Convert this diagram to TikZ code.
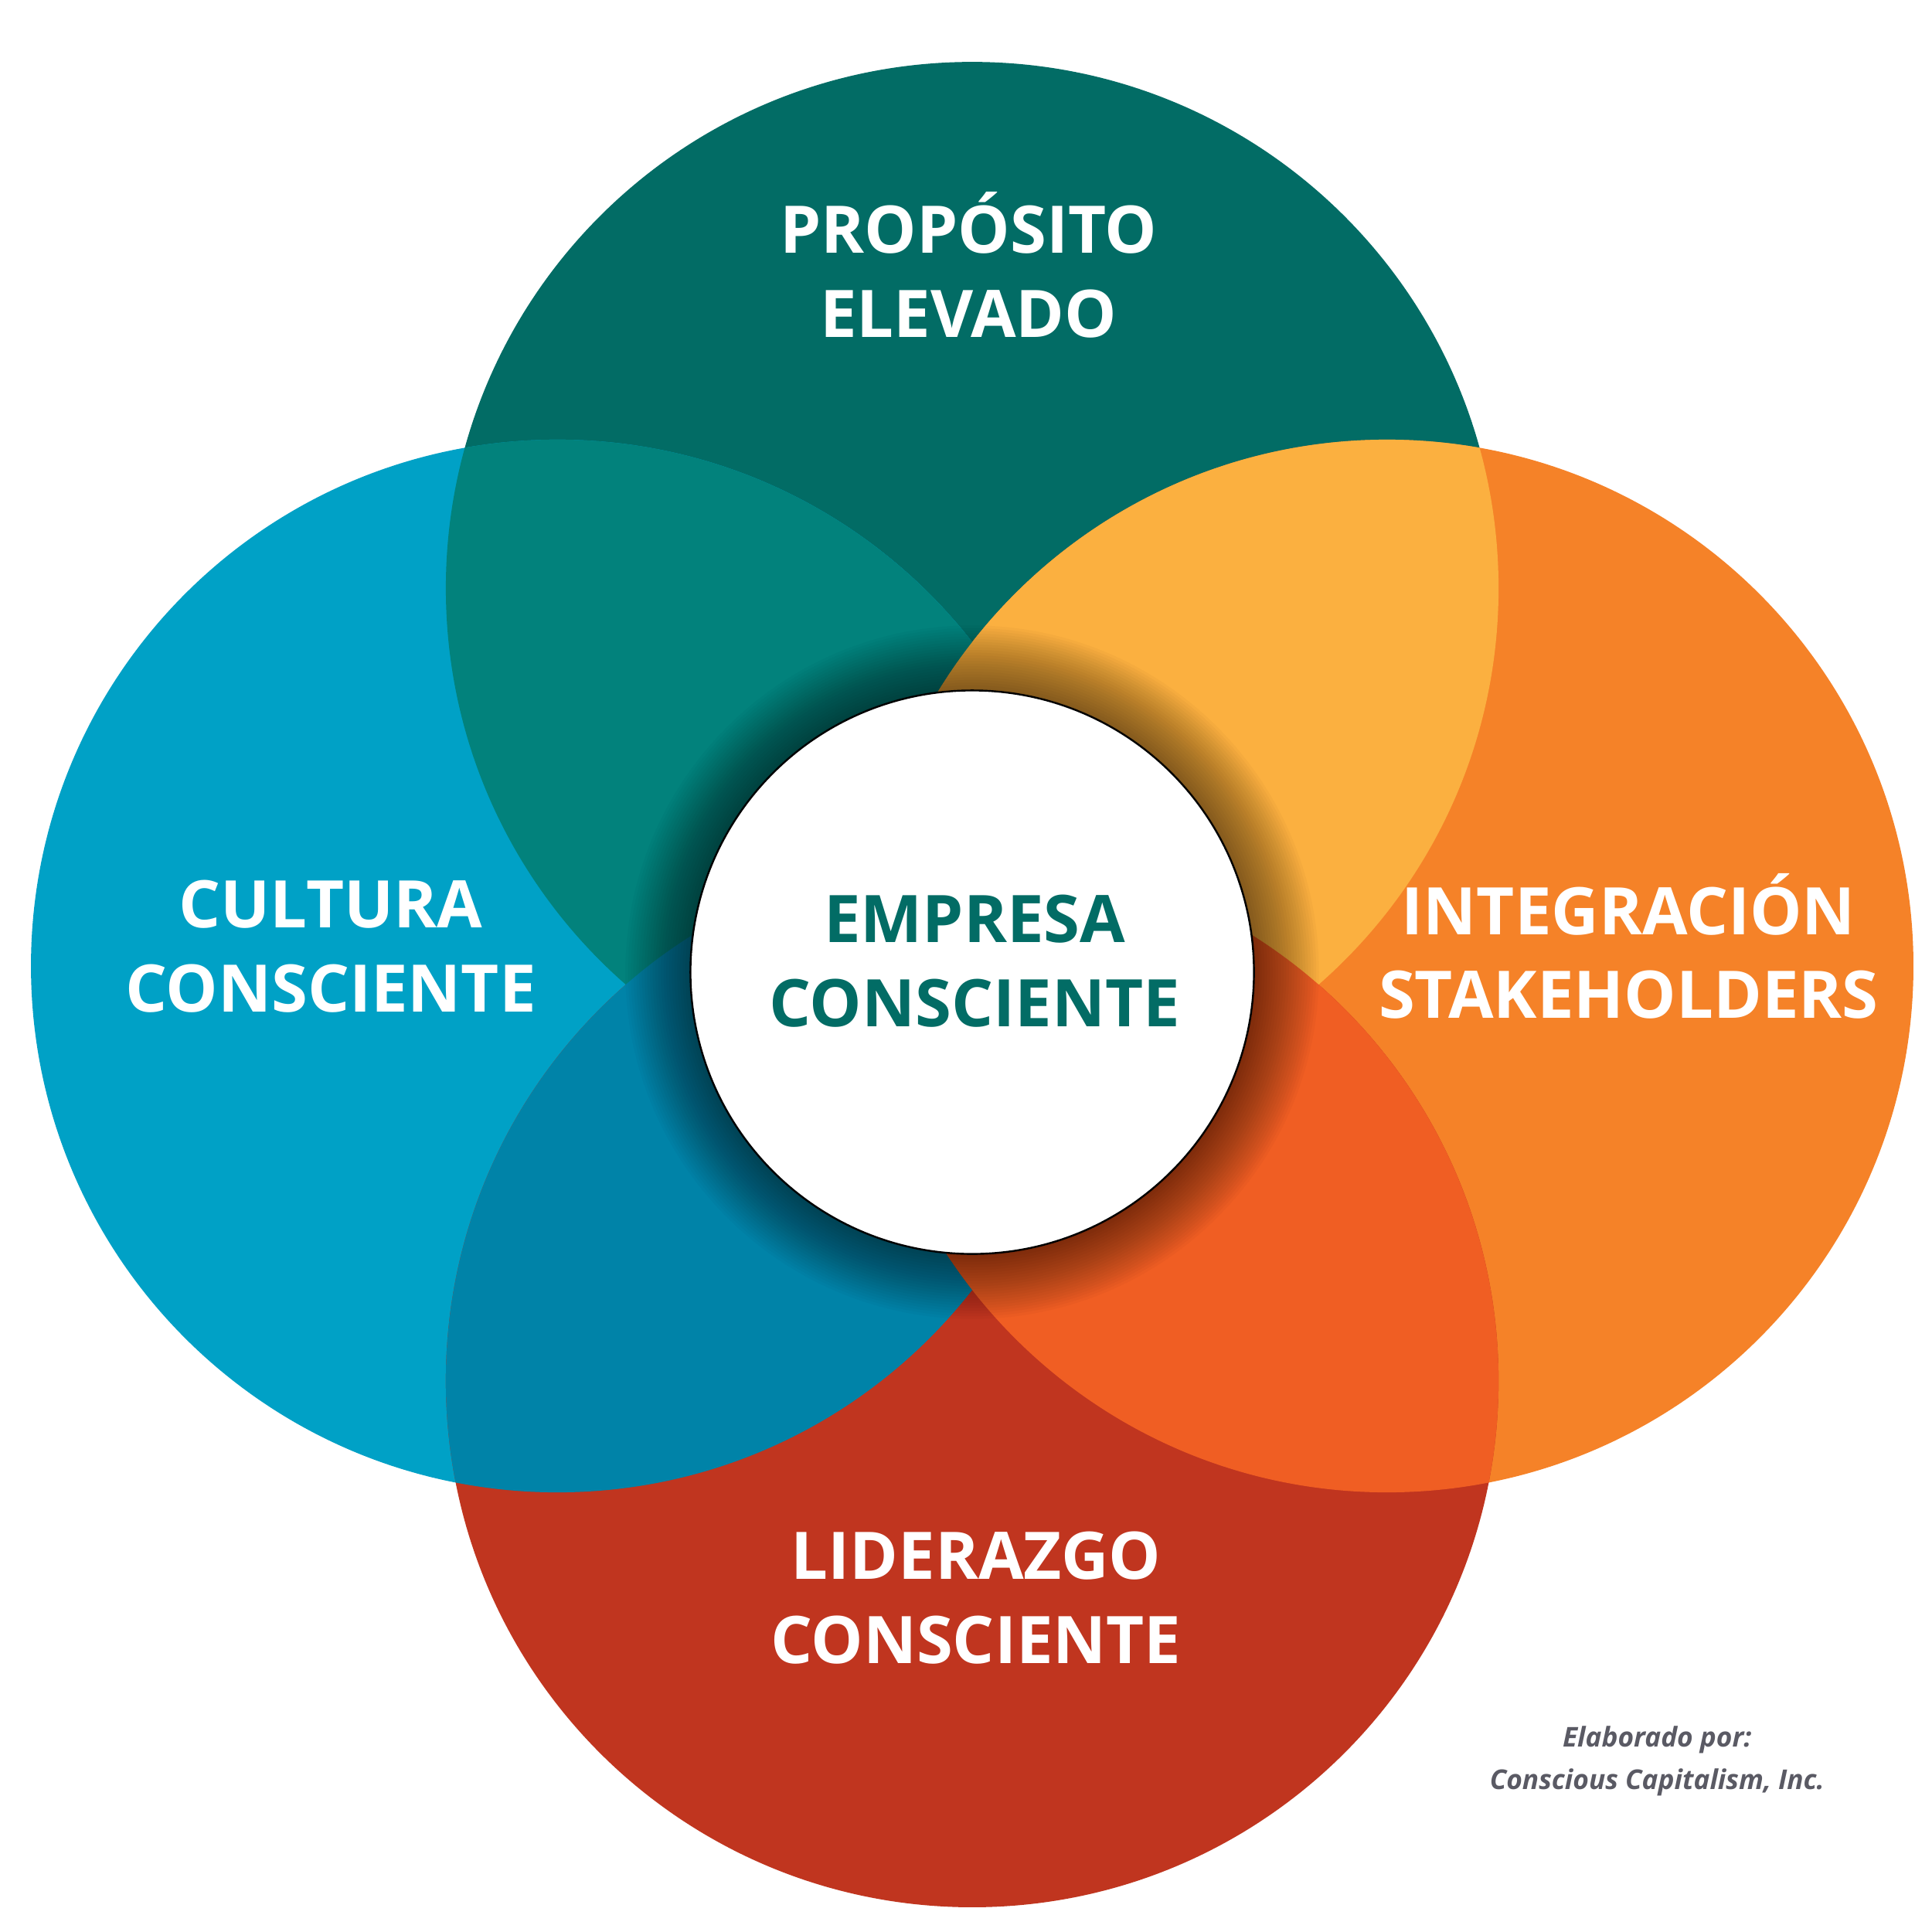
\documentclass[tikz,border=0pt]{standalone}
\usepackage{fontspec}
\setmainfont{Open Sans}
\begin{document}
\begin{tikzpicture}[x=1pt,y=-1pt,
  lbl/.style={text=white,font=\fontsize{53}{68}\selectfont\bfseries,align=center}]
\useasboundingbox (0,0) rectangle (1560,1560);
\fill[white] (0,0) rectangle (1560,1560);
\def\R{425}
\coordinate (T) at (785,475);
\coordinate (L) at (450,780);
\coordinate (Rr) at (1120,780);
\coordinate (B) at (785,1115);
\fill[fill={rgb,255:red,2;green,108;blue,101}] (T) circle (\R);
\fill[fill={rgb,255:red,0;green,161;blue,198}] (L) circle (\R);
\fill[fill={rgb,255:red,245;green,130;blue,40}] (Rr) circle (\R);
\fill[fill={rgb,255:red,192;green,53;blue,31}] (B) circle (\R);
\begin{scope}\clip (T) circle (\R); \fill[fill={rgb,255:red,2;green,130;blue,124}] (L) circle (\R);\end{scope}
\begin{scope}\clip (T) circle (\R); \fill[fill={rgb,255:red,251;green,176;blue,64}] (Rr) circle (\R);\end{scope}
\begin{scope}\clip (B) circle (\R); \fill[fill={rgb,255:red,0;green,131;blue,168}] (L) circle (\R);\end{scope}
\begin{scope}\clip (B) circle (\R); \fill[fill={rgb,255:red,240;green,94;blue,35}] (Rr) circle (\R);\end{scope}
\foreach \i in {0,...,24}
  \fill[black,opacity=0.022] (785,785) circle ({280-2.2*\i});
\node[circle,draw=black,line width=1.5pt,fill=white,minimum size=455pt,inner sep=0pt] (C) at (785,785) {};
\node[lbl,text={rgb,255:red,2;green,108;blue,101}] (ct) at (787,776) {EMPRESA\\CONSCIENTE};
\node[lbl] (tt) at (782,214) {PROPÓSITO\\ELEVADO};
\node[lbl] (lt) at (267,764) {CULTURA\\CONSCIENTE};
\node[lbl] (rt) at (1315,764) {INTEGRACIÓN\\STAKEHOLDERS};
\node[lbl] (bt) at (788,1290) {LIDERAZGO\\CONSCIENTE};
\node[text={rgb,255:red,90;green,90;blue,100},font=\fontsize{22}{34}\selectfont\bfseries\itshape,align=center] (ft) at (1338,1422) {Elaborado por:\\Conscious Capitalism, Inc.};
\end{tikzpicture}
\end{document}
